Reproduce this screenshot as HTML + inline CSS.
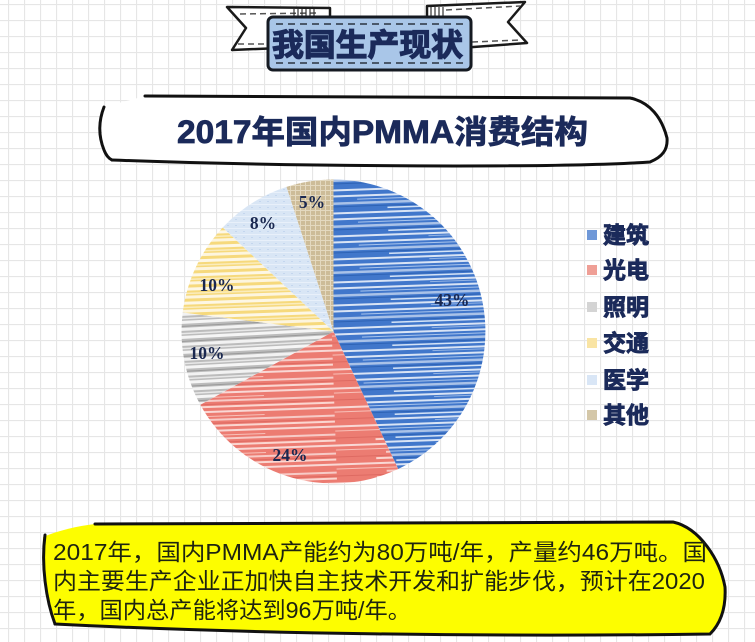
<!DOCTYPE html>
<html><head><meta charset="utf-8"><style>
html,body{margin:0;padding:0;background:#fff;}
svg{display:block;}
</style></head><body>
<svg width="755" height="642" viewBox="0 0 755 642" xmlns="http://www.w3.org/2000/svg">
<defs>
<pattern id="grid" patternUnits="userSpaceOnUse" width="16" height="16" x="8" y="4">
<rect width="16" height="16" fill="#fff"/>
<path d="M0,0.5H16M0.5,0V16" stroke="#e6e6e6" stroke-width="1.2"/>
</pattern>
<pattern id="pb" patternUnits="userSpaceOnUse" width="320" height="23" patternTransform="rotate(-2)">
<rect width="320" height="23" fill="#4177cb"/>
<rect y="0" width="320" height="2" fill="#fff" opacity=".8"/>
<rect x="30" y="4" width="200" height="1" fill="#a8c4ec"/>
<rect y="7" width="320" height="2.5" fill="#fff" opacity=".55"/>
<rect y="11" width="320" height="1" fill="#2e63b5"/>
<rect x="60" y="13" width="260" height="1.5" fill="#d4e3f6"/>
<rect x="0" y="17" width="180" height="2" fill="#fff" opacity=".8"/>
<rect x="100" y="20" width="220" height="1" fill="#92b3e4"/>
</pattern>
<pattern id="pr" patternUnits="userSpaceOnUse" width="320" height="19" patternTransform="rotate(-2)">
<rect width="320" height="19" fill="#ec7c72"/>
<rect y="0" width="320" height="2" fill="#fff" opacity=".7"/>
<rect y="5" width="250" height="1" fill="#f8c0b8"/>
<rect x="50" y="8" width="270" height="2" fill="#fff" opacity=".6"/>
<rect y="12" width="320" height="1" fill="#de6a62"/>
<rect x="40" y="14" width="280" height="2" fill="#fbd6d0"/>
</pattern>
<pattern id="pg" patternUnits="userSpaceOnUse" width="320" height="15" patternTransform="rotate(-3)">
<rect width="320" height="15" fill="#bcbcbc"/>
<rect y="0" width="320" height="3" fill="#fff" opacity=".85"/>
<rect y="5" width="320" height="1" fill="#9a9a9a"/>
<rect y="7" width="320" height="3" fill="#fff" opacity=".8"/>
<rect y="12" width="320" height="1.5" fill="#e8e8e8"/>
</pattern>
<pattern id="py" patternUnits="userSpaceOnUse" width="320" height="14" patternTransform="rotate(-2)">
<rect width="320" height="14" fill="#f6d97c"/>
<rect y="0" width="320" height="3" fill="#fff" opacity=".8"/>
<rect y="5" width="320" height="1.5" fill="#fbecbb"/>
<rect y="8" width="320" height="3" fill="#fff" opacity=".75"/>
</pattern>
<pattern id="pl" patternUnits="userSpaceOnUse" width="8" height="6">
<rect width="8" height="6" fill="#d9e6f5"/>
<rect y="0" width="8" height="1" fill="#e8f0fa"/>
<rect x="3" y="3" width="2" height="1" fill="#c4d6ee"/>
</pattern>
<pattern id="pt" patternUnits="userSpaceOnUse" width="5" height="5">
<rect width="5" height="5" fill="#cdbc98"/>
<path d="M0,0.5H5M0.5,0V5" stroke="#e4d9c0" stroke-width="1"/>
</pattern>
</defs>

<rect width="755" height="642" fill="url(#grid)"/>

<!-- top banner ribbons -->
<path d="M227,7 L330,8 L330,46 L232,50 L246,28 Z" fill="#fff" stroke="#1a1a1a" stroke-width="2.5" stroke-linejoin="round"/>
<path d="M427,6 L525,2 L508,22 L527,43 L460,48 L427,48 Z" fill="#fff" stroke="#1a1a1a" stroke-width="2.5" stroke-linejoin="round"/>
<path d="M240,14 L318,13" stroke="#555" stroke-width="1.5" stroke-dasharray="6,4"/>
<path d="M238,44 L268,44" stroke="#555" stroke-width="1.5" stroke-dasharray="6,4"/>
<path d="M446,10 L520,6" stroke="#555" stroke-width="1.5" stroke-dasharray="6,4"/>
<path d="M472,42 L520,40" stroke="#555" stroke-width="1.5" stroke-dasharray="6,4"/>
<g stroke="#333" stroke-width="1.2">
<path d="M294,9V17M298,9V17M302,9V17M306,9V17M310,9V17M314,9V17"/>
<path d="M431,7V17M435,7V17M439,7V17M443,7V17"/>
</g>
<rect x="268" y="17" width="203" height="53" rx="5" fill="#a9c6e8" stroke="#151a22" stroke-width="3"/>
<path d="M276,24 L463,24" stroke="#2a3340" stroke-width="1.5" stroke-dasharray="7,5"/>
<path d="M276,63 L463,63" stroke="#2a3340" stroke-width="1.5" stroke-dasharray="7,5"/>
<text x="272" y="56" font-family="'Liberation Sans','Noto Sans CJK SC',sans-serif" font-weight="bold" font-size="31" fill="#1b2a5a" stroke="#1b2a5a" stroke-width="1.2" textLength="191" lengthAdjust="spacingAndGlyphs">我国生产现状</text>

<!-- title bubble -->
<path d="M145,96 L630,98 C650,102 662,118 667,138 C668,150 662,157 650,162 C560,168 300,167 112,160 C103,150 99,132 104,107" fill="#fff" stroke="none"/>
<path d="M145,96 L630,98 C650,102 662,118 667,138 C668,150 662,157 650,162 C560,168 300,167 112,160" fill="none" stroke="#111" stroke-width="3" stroke-linecap="round"/>
<path d="M104,107 C99,120 98,135 104,150 C106,155 108,158 112,160" fill="none" stroke="#111" stroke-width="3" stroke-linecap="round"/>
<text x="177" y="143" font-family="'Liberation Sans','Noto Sans CJK SC',sans-serif" font-weight="bold" font-size="32" fill="#1b2a5a" stroke="#1b2a5a" stroke-width="0.8" textLength="411" lengthAdjust="spacingAndGlyphs">2017年国内PMMA消费结构</text>

<!-- pie -->
<path d="M333.5,331.5 L333.5,179.5 A152,152 0 0 1 398.2,469 Z" fill="url(#pb)"/>
<path d="M333.5,331.5 L398.2,469 A152,152 0 0 1 200.3,404.7 Z" fill="url(#pr)"/>
<path d="M333.5,331.5 L200.3,404.7 A152,152 0 0 1 182.7,312.5 Z" fill="url(#pg)"/>
<path d="M333.5,331.5 L182.7,312.5 A152,152 0 0 1 222.7,227.5 Z" fill="url(#py)"/>
<path d="M333.5,331.5 L222.7,227.5 A152,152 0 0 1 286.5,186.9 Z" fill="url(#pl)"/>
<path d="M333.5,331.5 L286.5,186.9 A152,152 0 0 1 333.5,179.5 Z" fill="url(#pt)"/>

<g font-family="'Liberation Serif',serif" font-weight="bold" font-size="17.5" fill="#1a2850" text-anchor="middle">
<text x="312" y="208">5%</text>
<text x="263" y="229">8%</text>
<text x="217" y="291">10%</text>
<text x="207" y="359">10%</text>
<text x="290" y="461">24%</text>
<text x="452" y="306">43%</text>
</g>

<!-- legend -->
<rect x="587" y="230" width="10" height="10" fill="#6f98d8"/>
<rect x="587" y="265" width="10" height="10" fill="#ef9f96"/>
<rect x="587" y="302" width="10" height="10" fill="#d4d4d4"/>
<rect x="587" y="338" width="10" height="10" fill="#f9e4a4"/>
<rect x="587" y="375" width="10" height="10" fill="#d9e6f6"/>
<rect x="587" y="410" width="10" height="10" fill="#d4c7a8"/>
<g font-family="'Liberation Sans','Noto Sans CJK SC',sans-serif" font-weight="bold" font-size="23" fill="#1b2a5a" stroke="#1b2a5a" stroke-width="0.9">
<text x="603" y="243">建筑</text>
<text x="603" y="278">光电</text>
<text x="603" y="315">照明</text>
<text x="603" y="351">交通</text>
<text x="603" y="388">医学</text>
<text x="603" y="423">其他</text>
</g>

<!-- yellow bubble -->
<path d="M95,524 L673,522 C700,528 720,560 725,587 C726,605 722,622 710,634 C500,637 250,634 55,624 C48,600 42,565 43,537 C60,530 78,526 95,524 Z" fill="#fdfd00"/>
<path d="M95,524 L673,522 C700,528 720,560 725,587 C726,605 722,622 710,634 C500,637 250,634 55,624" fill="none" stroke="#111" stroke-width="3" stroke-linecap="round"/>
<path d="M45,535 C41,565 46,600 55,624" fill="none" stroke="#111" stroke-width="3" stroke-linecap="round"/>
<g font-family="'Liberation Sans','Noto Sans CJK SC',sans-serif" font-size="23" fill="#1e2410">
<text x="53" y="560" textLength="654" lengthAdjust="spacingAndGlyphs">2017年，国内PMMA产能约为80万吨/年，产量约46万吨。国</text>
<text x="53" y="589" textLength="652" lengthAdjust="spacingAndGlyphs">内主要生产企业正加快自主技术开发和扩能步伐，预计在2020</text>
<text x="53" y="618" textLength="358" lengthAdjust="spacingAndGlyphs">年，国内总产能将达到96万吨/年。</text>
</g>
</svg>
</body></html>
